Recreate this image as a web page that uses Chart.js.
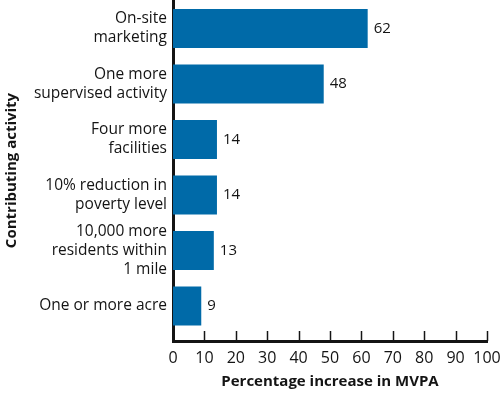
<!DOCTYPE html>
<html>
<head>
<meta charset="utf-8">
<script src="https://cdn.jsdelivr.net/npm/chart.js@4.4.0/dist/chart.umd.min.js"></script>
<style>
  html, body { margin: 0; padding: 0; background: #fff; }
  #wrap { width: 500px; height: 401px; }
</style>
</head>
<body>
<div id="wrap"><canvas id="myChart"></canvas></div>
<script>
const categories = [
    ['On-site', 'marketing'],
    ['One more', 'supervised activity'],
    ['Four more', 'facilities'],
    ['10% reduction in', 'poverty level'],
    ['10,000 more', 'residents within', '1 mile'],
    'One or more acre'
]
const increase = [62, 48, 14, 14, 13, 9]
const xTicks = [0, 10, 20, 30, 40, 50, 60, 70, 80, 90, 100]

const barColor = '#006aa8'
const ink = '#141414'
const fontFamily = '"Open Sans", "Noto Sans", sans-serif'

// small tick marks pointing up into the plot, like the original
const innerTicks = {
    id: 'innerTicks',
    afterDraw(chart) {
        const { ctx, chartArea, scales } = chart
        ctx.save()
        ctx.strokeStyle = ink
        ctx.lineWidth = 1.5
        xTicks.forEach(v => {
            if (v === 0) return
            const px = Math.round(scales.x.getPixelForValue(v)) + 0.5
            ctx.beginPath()
            ctx.moveTo(px, chartArea.bottom - 10)
            ctx.lineTo(px, chartArea.bottom)
            ctx.stroke()
        })
        ctx.restore()
    }
}

// value labels at the end of each bar
const valueLabels = {
    id: 'valueLabels',
    afterDatasetsDraw(chart) {
        const { ctx } = chart
        const meta = chart.getDatasetMeta(0)
        ctx.save()
        ctx.fillStyle = ink
        ctx.font = '15px ' + fontFamily
        ctx.textAlign = 'left'
        ctx.textBaseline = 'middle'
        meta.data.forEach((bar, i) => {
            ctx.fillText(String(increase[i]), bar.x + 6, bar.y)
        })
        ctx.restore()
    }
}

const ctx = document.querySelector('#myChart').getContext('2d')

new Chart(ctx, {
    type: 'bar',
    data: {
        datasets: [{
            data: increase.map((v, i) => ({ x: v, y: i })),
            backgroundColor: barColor,
            borderWidth: 0,
            barPercentage: 0.7,
            categoryPercentage: 1
        }]
    },
    options: {
        indexAxis: 'y',
        responsive: true,
        maintainAspectRatio: false,
        animation: false,
        layout: {
            padding: 0
        },
        scales: {
            x: {
                type: 'linear',
                min: 0,
                max: 100,
                grid: { display: false, drawTicks: false },
                border: { display: true, color: ink, width: 3 },
                ticks: {
                    stepSize: 10,
                    padding: 8,
                    color: ink,
                    font: { family: fontFamily, size: 16 },
                    maxRotation: 0,
                    callback: (v) => xTicks.includes(v) ? String(v) : ''
                },
                title: {
                    display: true,
                    text: 'Percentage increase in MVPA',
                    color: ink,
                    font: { family: fontFamily, size: 15, weight: 'bold' },
                    padding: { top: 0, bottom: 10 }
                },
                afterFit: (scale) => {
                    scale.height = 60
                    scale.paddingLeft = 0
                    scale.paddingRight = 13
                }
            },
            y: {
                type: 'linear',
                reverse: true,
                offset: false,
                min: -0.514,
                max: 5.63,
                grid: { display: false, drawTicks: false, offset: false },
                border: { display: true, color: ink, width: 3 },
                ticks: {
                    stepSize: 1,
                    includeBounds: false,
                    autoSkip: false,
                    padding: 6,
                    color: ink,
                    font: { family: fontFamily, size: 15.5, lineHeight: 1.22 },
                    callback: (v) => Number.isInteger(v) && categories[v] ? categories[v] : ''
                },
                title: {
                    display: true,
                    text: 'Contributing activity',
                    color: ink,
                    font: { family: fontFamily, size: 15, weight: 'bold' },
                    padding: { top: 3, bottom: 0 }
                },
                afterFit: (scale) => {
                    scale.width = 173
                    scale.paddingTop = 0
                    scale.paddingBottom = 0
                }
            }
        },
        plugins: {
            legend: { display: false },
            tooltip: { enabled: false }
        }
    },
    plugins: [innerTicks, valueLabels]
})
</script>
</body>
</html>
